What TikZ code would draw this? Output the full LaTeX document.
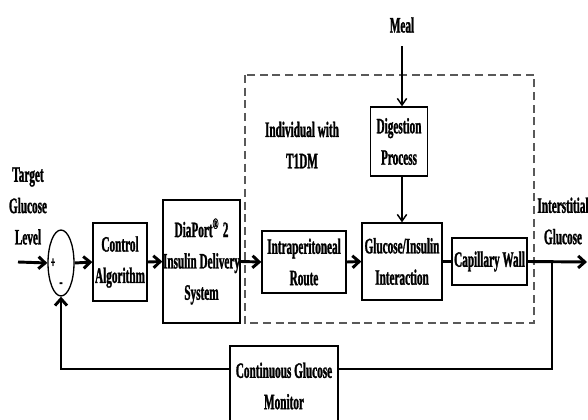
\documentclass[tikz,border=0pt]{standalone}
\usepackage{fontspec}
\newfontfamily\diagfont{Liberation Serif}[FakeStretch=0.51,BoldFeatures={FakeBold=1.2}]
\usetikzlibrary{shapes.geometric,arrows.meta}

\begin{document}
\begin{tikzpicture}[x=0.75pt,y=0.75pt,yscale=-1,xscale=1,
	every node/.style={font=\diagfont\bfseries\fontsize{16.5}{23.5}\selectfont},
	blk/.style={draw,line width=1pt,inner sep=0pt,align=center},
	lbl/.style={inner sep=0pt,align=center},
	sig/.style={line width=2.2pt,-{Straight Barb[length=5pt,width=9pt]}},
	feed/.style={line width=1.1pt,-{Straight Barb[length=5pt,width=7pt]}},
	dashbox/.style={draw=black!65,line width=1.1pt,dash pattern={on 6pt off 3.5pt}}]
	\clip (0,0) rectangle (588,420);
	% person block
	\draw  [dashbox] (245,75) rectangle (534,323) ;
	\draw (61,263) node [ellipse,draw,line width=1pt,minimum width=19.5pt,minimum height=49.5pt,inner sep=0pt] (sum) {};
	\draw (120,262) node [blk,minimum width=40.5pt,minimum height=58.5pt] (ctrl) {Control\\Algorithm};
	\draw (201.5,261.5) node [blk,minimum width=57.75pt,minimum height=92.25pt] (pump) {DiaPort\textsuperscript{®}\,2\\Insulin Delivery\\System};
	\draw (304,262) node [blk,minimum width=63pt,minimum height=46.5pt] (route) {Intraperitoneal\\Route};
	\draw (402,261.5) node [blk,minimum width=60pt,minimum height=57.75pt] (gi) {Glucose/Insulin\\Interaction};
	\draw (399,141.5) node [blk,minimum width=42.75pt,minimum height=51.75pt] (digest) {Digestion\\Process};
	\draw (489.5,261.5) node [blk,minimum width=56.25pt,minimum height=35.25pt] (cap) {Capillary Wall};
	\draw (284,386) node [blk,minimum width=81pt,minimum height=60pt] (cgm) {Continuous Glucose\\Monitor};
	% labels
	\draw (28,206) node [lbl] (target) {Target\\Glucose\\Level};
	\draw (402,25) node [lbl] (meal) {Meal};
	\draw (302,145) node [lbl] (indiv) {Individual with\\T1DM};
	\draw (563,221) node [lbl] (intst) {Interstitial\\Glucose};
	\draw (53,263) node [lbl,font=\diagfont\bfseries\fontsize{12}{12}\selectfont] (plus) {+};
	\draw (61,285) node [lbl,font=\diagfont\bfseries\fontsize{14}{14}\selectfont] (minus) {-};
	\coordinate (in) at (18,262);
	\coordinate (out) at (587,262);
	\coordinate (br) at (552,262);
	\coordinate (fb) at (552,369);
	% signal path
	\draw [sig] (in) -- (sum.west) ;
	\draw [sig] (sum.east) -- (ctrl.west) ;
	\draw [sig] (ctrl.east) -- (pump.west) ;
	\draw [sig] (pump.east) -- (route.west) ;
	\draw [sig] (route.east) -- (gi.west) ;
	\draw [line width=2.2pt] (gi.east) -- (cap.west) ;
	\draw [sig] (cap.east) -- (out) ;
	\draw [feed, shorten <=10pt] (meal.south) -- (meal.south |- digest.north) ;
	\draw [feed] (gi.north |- digest.south) -- (gi.north) ;
	% feedback
	\draw [line width=2.2pt] (br) -- (fb) -- (fb -| cgm.east) ;
	\draw [sig] (cgm.west |- fb) -| (sum.south) ;
\end{tikzpicture}
\end{document}
